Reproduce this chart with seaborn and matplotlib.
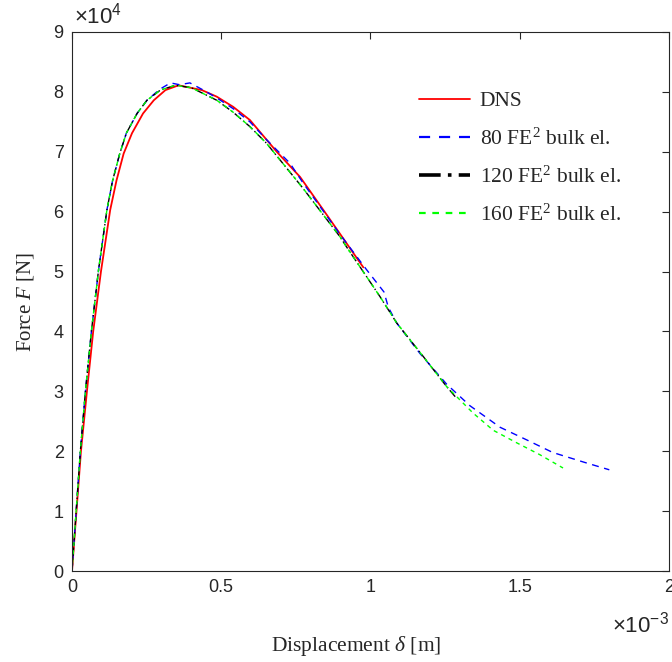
import numpy as np
import pandas as pd
import seaborn as sns
import matplotlib.pyplot as plt

# displacement in 1e-3 m, force in 1e4 N
dns_x = [0, 0.015, 0.030, 0.050, 0.071, 0.097, 0.128, 0.149, 0.173, 0.201, 0.238, 0.274,
         0.313, 0.357, 0.435, 0.485, 0.54, 0.596, 0.686, 0.764, 0.846, 0.909, 0.959, 0.976]
dns_y = [0, 1, 2, 3, 4, 5, 6.03, 6.52, 6.97, 7.31, 7.64, 7.86,
         8.03, 8.11, 8.03, 7.92, 7.75, 7.53, 7.0, 6.58, 6.0, 5.55, 5.19, 5.07]

fe80_x = [0, 0.014, 0.028, 0.045, 0.065, 0.089, 0.117, 0.136, 0.160, 0.182, 0.218, 0.251,
          0.296, 0.33, 0.36, 0.395, 0.44, 0.485, 0.54, 0.596, 0.652, 0.73, 0.774, 0.898,
          0.987, 1.045, 1.06, 1.088, 1.166, 1.255, 1.333, 1.434, 1.523, 1.61, 1.713, 1.80]
fe80_y = [0, 1, 2, 3, 4, 5.03, 6.03, 6.52, 6.97, 7.31, 7.64, 7.86,
          8.05, 8.15, 8.12, 8.15, 8.03, 7.90, 7.72, 7.50, 7.20, 6.81, 6.48, 5.62,
          5.03, 4.66, 4.40, 4.14, 3.63, 3.12, 2.76, 2.40, 2.19, 1.98, 1.82, 1.69]

fe120_x = [0, 0.014, 0.028, 0.045, 0.065, 0.089, 0.117, 0.136, 0.160, 0.182, 0.218, 0.251,
           0.296, 0.346, 0.40, 0.485, 0.54, 0.596, 0.652, 0.774, 0.898, 0.92, 1.032, 1.088,
           1.177, 1.255, 1.289]
fe120_y = [0, 1, 2, 3, 4, 5.03, 6.03, 6.52, 6.97, 7.31, 7.64, 7.86,
           8.03, 8.11, 8.07, 7.86, 7.66, 7.42, 7.14, 6.39, 5.58, 5.41, 4.58, 4.14,
           3.58, 3.08, 2.88]

fe160_x = [0, 0.014, 0.028, 0.045, 0.065, 0.089, 0.117, 0.136, 0.160, 0.182, 0.218, 0.251,
           0.296, 0.346, 0.40, 0.485, 0.54, 0.596, 0.652, 0.774, 0.898, 0.92, 1.032, 1.088,
           1.177, 1.255, 1.343, 1.411, 1.49, 1.568, 1.645]
fe160_y = [0, 1, 2, 3, 4, 5.03, 6.03, 6.52, 6.97, 7.31, 7.64, 7.86,
           8.03, 8.11, 8.07, 7.86, 7.66, 7.42, 7.14, 6.39, 5.58, 5.41, 4.58, 4.14,
           3.58, 3.08, 2.64, 2.35, 2.14, 1.94, 1.72]

labels = ['DNS', '80 FE$^2$ bulk el.', '120 FE$^2$ bulk el.', '160 FE$^2$ bulk el.']
x_ticks = [0, 0.5, 1, 1.5, 2]
x_ticklabels = ['0', '0.5', '1', '1.5', '2']
y_ticks = list(range(10))

sns.set_style('white')
plt.rcParams['font.family'] = ['Liberation Sans', 'DejaVu Sans']
plt.rcParams['mathtext.fontset'] = 'custom'
plt.rcParams['mathtext.rm'] = 'Liberation Serif'
plt.rcParams['mathtext.it'] = 'Liberation Serif:italic'
plt.rcParams['mathtext.sf'] = 'Liberation Sans'

fig = plt.figure(figsize=(6.72, 6.62), dpi=100)
ax = fig.add_axes([72 / 672, 1 - 571 / 662, 597 / 672, 539 / 662])

sns.lineplot(x=dns_x, y=dns_y, ax=ax, color='#ff0000', lw=1.3, sort=False, estimator=None, label=labels[0])
sns.lineplot(x=fe80_x, y=fe80_y, ax=ax, color='#0000ff', lw=1.0, linestyle=(0, (5, 4)),
             sort=False, estimator=None, label=labels[1])
sns.lineplot(x=fe120_x, y=fe120_y, ax=ax, color='black', lw=1.0, linestyle=(0, (6, 2, 1, 2)),
             sort=False, estimator=None, label=labels[2])
sns.lineplot(x=fe160_x, y=fe160_y, ax=ax, color='#00ff00', lw=1.0, linestyle=(0, (3, 3)),
             sort=False, estimator=None, label=labels[3])

ax.set_xlim(0, 2)
ax.set_ylim(0, 9)
ax.set_xticks(x_ticks)
ax.set_xticklabels(x_ticklabels)
ax.set_yticks(y_ticks)
ax.tick_params(direction='in', length=5, width=0.8, colors='#262626', labelsize=13,
               top=True, right=True, pad=6)
for sp in ax.spines.values():
    sp.set_color('#262626')
    sp.set_linewidth(0.8)

ax.set_xlabel(r'Displacement $\delta$ [m]', family='Liberation Serif', fontsize=15.5)
ax.set_ylabel(r'Force $F$ [N]', family='Liberation Serif', fontsize=15)
ax.xaxis.set_label_coords((356 - 72) / 597, -(634 - 571) / 539)
ax.yaxis.set_label_coords(-(72 - 36) / 597, 0.5)

ax.text(0.003, 1.006, r'$\mathsf{\times 10^{4}}$', transform=ax.transAxes, fontsize=16,
        ha='left', va='bottom', color='#262626')
fig.text(0.996, 1 - 637 / 662, r'$\mathsf{\times 10^{-3}}$', fontsize=16,
         ha='right', va='bottom', color='#262626')

leg = ax.legend(loc='upper left', bbox_to_anchor=((400 - 72) / 597, 1 - (72 - 32) / 539),
                frameon=False, prop={'family': 'Liberation Serif', 'size': 15.5},
                handlelength=2.35, handletextpad=0.45, labelspacing=0.78)
widths = [1.3, 1.6, 2.6, 1.6]
for h, w in zip(leg.legend_handles, widths):
    h.set_linewidth(w)

fig.savefig('out.png', dpi=100)
